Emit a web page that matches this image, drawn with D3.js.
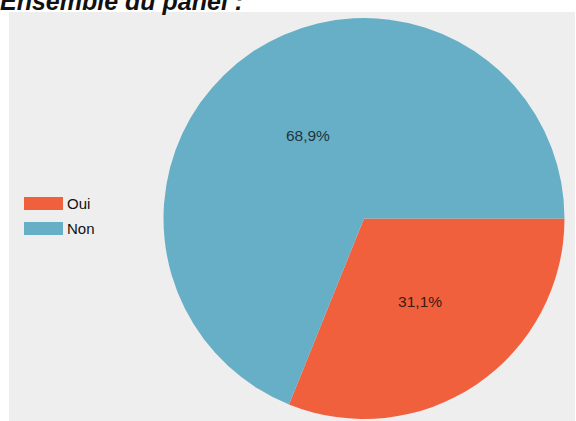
<!DOCTYPE html>
<html><head><meta charset="utf-8">
<script src="https://cdn.jsdelivr.net/npm/d3@7"></script>
<style>body{margin:0;background:#fff;}svg{display:block;}</style>
</head><body>
<script>
const categories = ["Oui", "Non"];
const values = [31.1, 68.9];
const labels = ["31,1%", "68,9%"];
const colors = ["#F0603D", "#67AFC6"];
const title = "Ensemble du panel :";

const W = 576, H = 421;
const svg = d3.select("body").append("svg").attr("width", W).attr("height", H);
svg.append("rect").attr("x", 9).attr("y", 12).attr("width", 566).attr("height", 409).attr("fill", "#EEEEEE");
svg.append("text").attr("x", 0).attr("y", 10).text(title)
  .attr("font-family", "Liberation Sans, Arial, sans-serif").attr("font-size", 25)
  .attr("font-style", "italic").attr("font-weight", "bold").attr("fill", "#111");

const cx = 364, cy = 218.5, r = 200.5;
const pie = d3.pie().sort(null).value(d => d)
  .startAngle(Math.PI / 2).endAngle(Math.PI / 2 + 2 * Math.PI);
const arcs = pie(values);
const arc = d3.arc().innerRadius(0).outerRadius(r);
const labelArc = d3.arc().innerRadius(r * 0.5).outerRadius(r * 0.5);
const g = svg.append("g").attr("transform", `translate(${cx},${cy})`);
g.selectAll("path").data(arcs).join("path").attr("d", arc).attr("fill", (d, i) => colors[i]);
g.selectAll("text").data(arcs).join("text")
  .attr("transform", d => `translate(${labelArc.centroid(d)})`)
  .attr("text-anchor", "middle").attr("dy", "0.35em")
  .attr("font-family", "Liberation Sans, Arial, sans-serif").attr("font-size", 15.5)
  .attr("fill", (d, i) => i === 0 ? "#3a1a10" : "#1d3440")
  .text((d, i) => labels[i]);

const leg = svg.append("g");
categories.forEach((c, i) => {
  const y = 197 + i * 25;
  leg.append("rect").attr("x", 24).attr("y", y).attr("width", 39).attr("height", 13).attr("fill", colors[i]);
  leg.append("text").attr("x", 67).attr("y", y + 12).text(c)
    .attr("font-family", "Liberation Sans, Arial, sans-serif").attr("font-size", 15).attr("fill", "#111");
});
</script>
</body></html>
